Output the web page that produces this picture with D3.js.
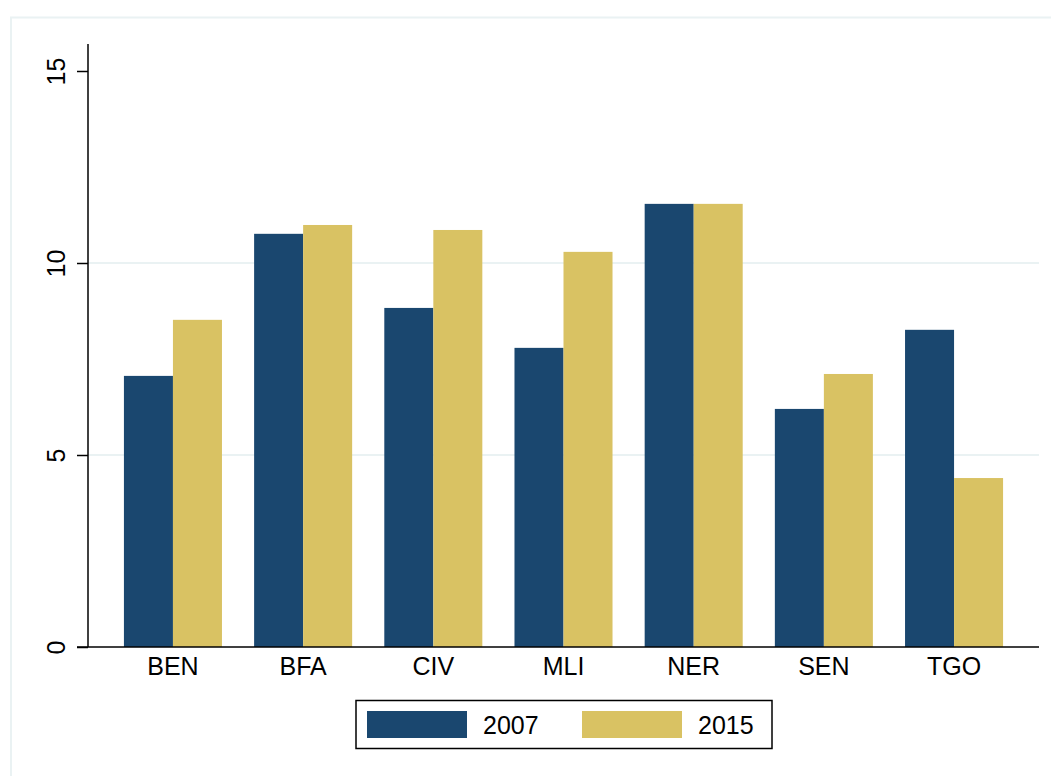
<!DOCTYPE html>
<html>
<head>
<meta charset="utf-8">
<script src="https://cdn.jsdelivr.net/npm/d3@7"></script>
<style>
  html, body { margin: 0; padding: 0; background: #fff; }
  svg { display: block; font-family: "Liberation Sans", Arial, sans-serif; }
</style>
</head>
<body>
<svg id="chart" width="1051" height="776"></svg>
<script>
const categories = ["BEN", "BFA", "CIV", "MLI", "NER", "SEN", "TGO"];
const seriesNames = ["2007", "2015"];
const values2007 = [7.06, 10.76, 8.83, 7.79, 11.54, 6.20, 8.26];
const values2015 = [8.52, 10.99, 10.86, 10.29, 11.54, 7.11, 4.40];
const yTicks = [0, 5, 10, 15];
const colors = ["#1a476f", "#d9c263"];

(function () {
const svg = d3.select("#chart");
const W = 1051, H = 776;

// outer light frame
svg.append("rect")
  .attr("x", 11).attr("y", 17.5)
  .attr("width", W + 10).attr("height", H + 10)
  .attr("fill", "#fff")
  .attr("stroke", "#eaf2f3").attr("stroke-width", 2);

const pLeft = 88, pRight = 1039, pTop = 44, pBottom = 647;

const y = d3.scaleLinear().domain([0, 15]).range([pBottom, 71]);
const x0 = d3.scaleBand().domain(categories).range([pLeft, pRight])
  .paddingInner(0.247).paddingOuter(0.276);
const x1 = d3.scaleBand().domain(seriesNames).range([0, x0.bandwidth()]);

// gridlines
svg.append("g").selectAll("line")
  .data(yTicks.filter(d => d > 0 && d < 15))
  .join("line")
  .attr("x1", pLeft).attr("x2", pRight)
  .attr("y1", d => y(d)).attr("y2", d => y(d))
  .attr("stroke", "#eaf2f3").attr("stroke-width", 2);

// bars
const series = [values2007, values2015];
const g = svg.append("g");
categories.forEach((c, i) => {
  seriesNames.forEach((s, j) => {
    g.append("rect")
      .attr("x", x0(c) + x1(s))
      .attr("y", y(series[j][i]))
      .attr("width", x1.bandwidth())
      .attr("height", y(0) - y(series[j][i]))
      .attr("fill", colors[j]);
  });
});

// y axis
const yAxis = d3.axisLeft(y).tickValues(yTicks).tickSize(11).tickPadding(12).tickSizeOuter(0);
const ya = svg.append("g").attr("transform", `translate(${pLeft},0)`).call(yAxis);
ya.select(".domain").remove();
ya.append("line").attr("x1", 0).attr("x2", 0).attr("y1", pTop).attr("y2", pBottom)
  .attr("stroke", "#000").attr("stroke-width", 1.5);
ya.selectAll(".tick line").attr("stroke", "#000").attr("stroke-width", 1.5);
ya.selectAll(".tick text")
  .attr("font-size", 25).attr("fill", "#000")
  .attr("text-anchor", "middle")
  .attr("x", null).attr("dy", null)
  .attr("transform", "translate(-23,0) rotate(-90)")
  .attr("y", 0);

// x axis
const xAxis = d3.axisBottom(x0).tickSize(0).tickPadding(10);
const xa = svg.append("g").attr("transform", `translate(0,${pBottom})`).call(xAxis);
xa.select(".domain").remove();
xa.append("line").attr("x1", 77).attr("x2", pRight).attr("y1", 0).attr("y2", 0)
  .attr("stroke", "#000").attr("stroke-width", 1.5);
xa.selectAll(".tick text").attr("font-size", 25).attr("fill", "#000").attr("dy", "0.71em");

// legend
const lg = svg.append("g");
lg.append("rect").attr("x", 356).attr("y", 700.5).attr("width", 416).attr("height", 48)
  .attr("fill", "#fff").attr("stroke", "#000").attr("stroke-width", 1.5);
const legX = [367, 582];
seriesNames.forEach((s, j) => {
  lg.append("rect").attr("x", legX[j]).attr("y", 711).attr("width", 100).attr("height", 27)
    .attr("fill", colors[j]);
  lg.append("text").attr("x", legX[j] + 116).attr("y", 734)
    .attr("font-size", 25).attr("fill", "#000").text(s);
});
})();
</script>
</body>
</html>
